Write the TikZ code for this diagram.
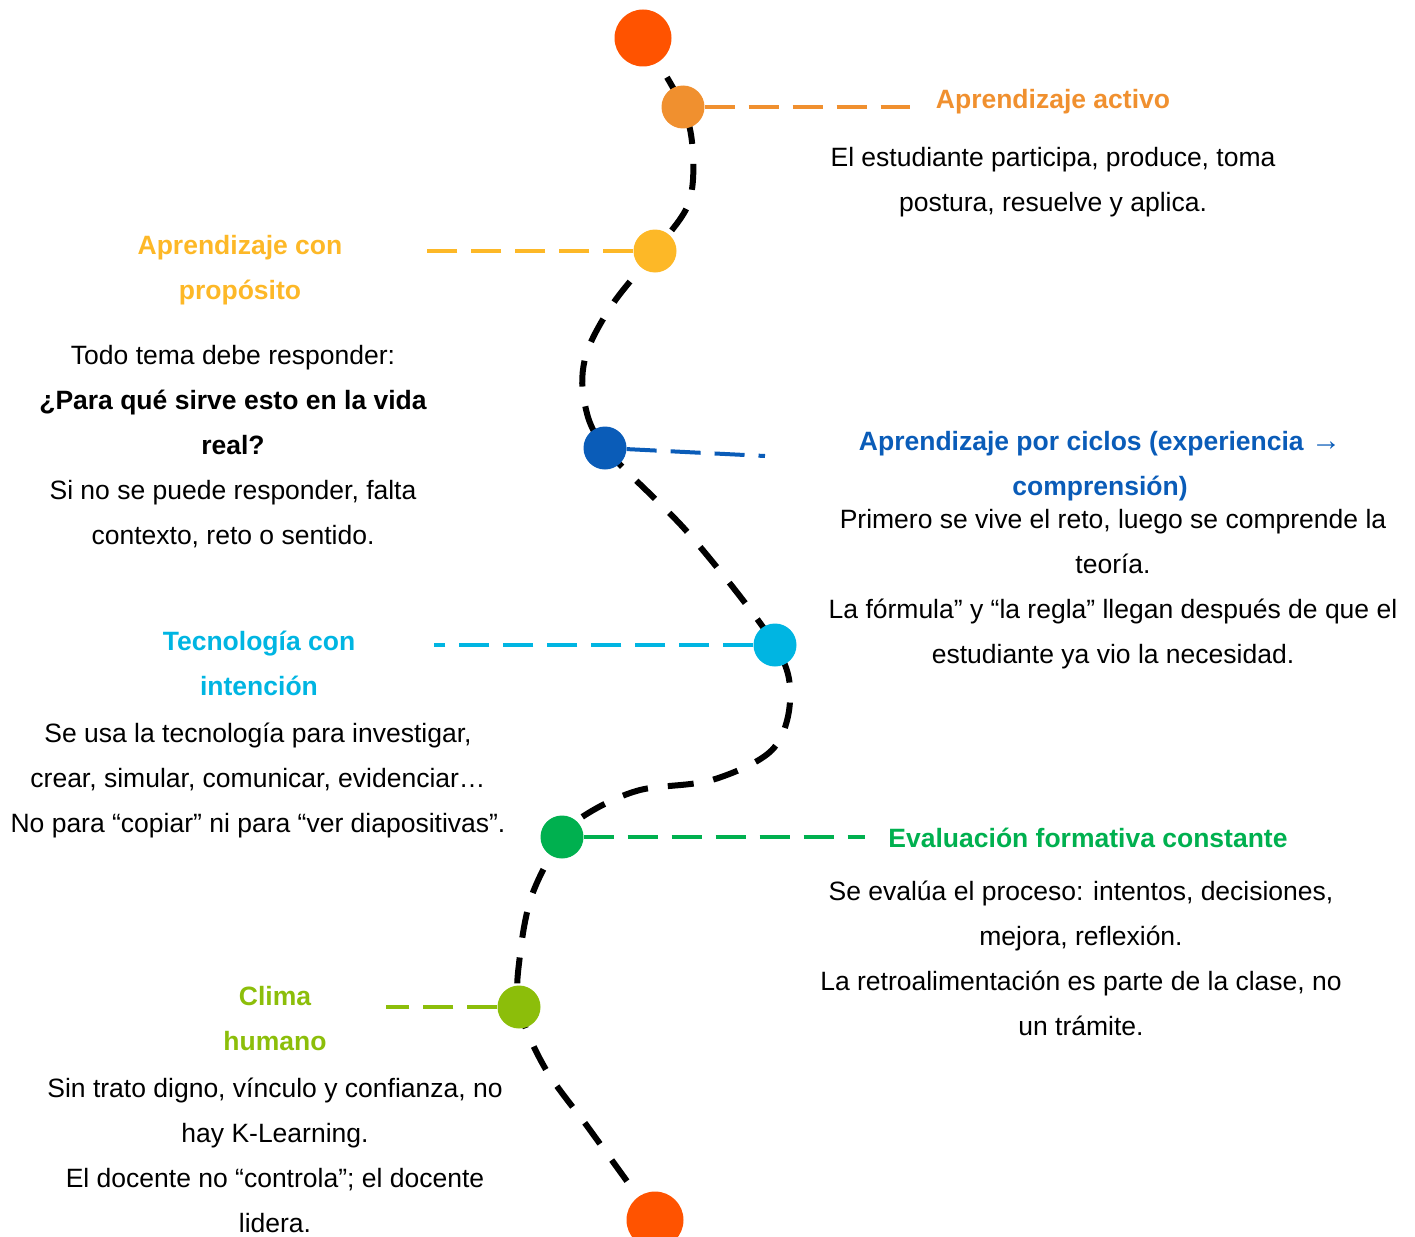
\documentclass[tikz,border=0pt]{standalone}
\usepackage{fontspec}
\setmainfont{Liberation Sans}
\definecolor{cRed}{HTML}{FF5300}
\definecolor{cOrange}{HTML}{F0902F}
\definecolor{cYellow}{HTML}{FDB827}
\definecolor{cBlue}{HTML}{0A5CB8}
\definecolor{cCyan}{HTML}{00B5E2}
\definecolor{cGreen}{HTML}{00B04F}
\definecolor{cLime}{HTML}{8CBE0A}
\begin{document}
\begin{tikzpicture}[x=1pt,y=-1pt,
  body/.style={font=\fontsize{26.5}{45}\selectfont, align=center, inner sep=0pt, text=black},
  ttl/.style={font=\bfseries\fontsize{26.5}{45}\selectfont, align=center, inner sep=0pt},
  dot/.style={circle, inner sep=0pt, minimum size=43pt},
  bigdot/.style={circle, inner sep=0pt, minimum size=57pt, fill=cRed},
  conn/.style={line width=4pt, dash pattern=on 30pt off 14pt},
  trail/.style={line width=6pt, dash pattern=on 26pt off 20pt, line cap=butt}]
\useasboundingbox (0,0) rectangle (1415,1236);
% path points
\coordinate (p0) at (643,38);
\coordinate (p1) at (683,107);
\coordinate (p2) at (655,251);
\coordinate (p3) at (605,448);
\coordinate (p4) at (775,645);
\coordinate (p5) at (562,837);
\coordinate (p6) at (519,1007);
\coordinate (p7) at (655,1220);
\draw[trail] plot[smooth, tension=0.55] coordinates {(p0) (p1) (693,155) (688,205) (p2) (612,305) (586,355) (584,400) (p3) (690,535) (p4) (790,700) (772,750) (712,780) (640,790) (590,812) (p5) (532,895) (520,955) (p6) (545,1068) (590,1130) (p7)};
% circles
\node[bigdot] (c0) at (p0) {};
\node[dot, fill=cOrange] (c1) at (p1) {};
\node[dot, fill=cYellow] (c2) at (p2) {};
\node[dot, fill=cBlue] (c3) at (p3) {};
\node[dot, fill=cCyan] (c4) at (p4) {};
\node[dot, fill=cGreen] (c5) at (p5) {};
\node[dot, fill=cLime] (c6) at (p6) {};
\node[bigdot] (c7) at (p7) {};
% connector ends
\coordinate (e1) at (910,107);
\coordinate (e2) at (420,251);
\coordinate (e3) at (765,456);
\coordinate (e4) at (434,645);
\coordinate (e5) at (865,837);
\coordinate (e6) at (386,1007);
\draw[conn, cOrange] (c1) -- (e1);
\draw[conn, cYellow] (c2) -- (e2);
\draw[conn, cBlue] (c3) -- (e3);
\draw[conn, cCyan] (c4) -- (e4);
\draw[conn, cGreen] (c5) -- (e5);
\draw[conn, cLime] (c6) -- (e6);
% texts
\node[ttl, text=cOrange] (t1) at (1053,102) {Aprendizaje activo};
\node[body] (d1) at (1053,182) {El estudiante participa, produce, toma\\postura, resuelve y aplica.};
\node[ttl, text=cYellow] (t2) at (240,270.5) {Aprendizaje con\\propósito};
\node[body] (d2) at (233,447) {Todo tema debe responder:\\{\bfseries ¿Para qué sirve esto en la vida}\\{\bfseries real?}\\Si no se puede responder, falta\\contexto, reto o sentido.};
\node[ttl, text=cBlue] (t3) at (1100,466) {Aprendizaje por ciclos (experiencia {\fontsize{30}{45}\selectfont →}\\comprensión)};
\node[body] (d3) at (1113,589.5) {Primero se vive el reto, luego se comprende la\\teoría.\\La fórmula” y “la regla” llegan después de que el\\estudiante ya vio la necesidad.};
\node[ttl, text=cCyan] (t4) at (259,663.5) {Tecnología con\\intención};
\node[body] (d4) at (258,780.5) {Se usa la tecnología para investigar,\\crear, simular, comunicar, evidenciar…\\No para “copiar” ni para “ver diapositivas”.};
\node[ttl, text=cGreen] (t5) at (1088,837.5) {Evaluación formativa constante};
\node[body] (d5) at (1081,958.5) {Se evalúa el proceso: intentos, decisiones,\\mejora, reflexión.\\La retroalimentación es parte de la clase, no\\un trámite.};
\node[ttl, text=cLime] (t6) at (275,1019) {Clima\\humano};
\node[body] (d6) at (275,1155) {Sin trato digno, vínculo y confianza, no\\hay K-Learning.\\El docente no “controla”; el docente\\lidera.};
\end{tikzpicture}
\end{document}
